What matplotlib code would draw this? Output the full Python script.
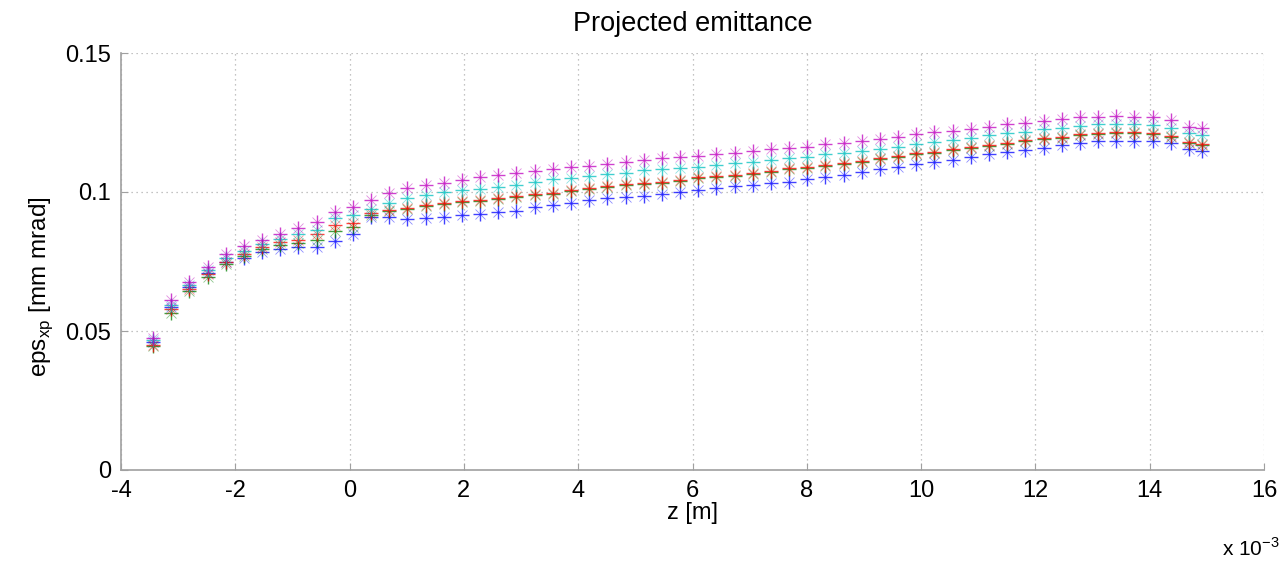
import matplotlib
matplotlib.use("Agg")
import matplotlib.pyplot as plt

plt.rcParams['font.family'] = ['Liberation Sans', 'DejaVu Sans']

# z positions in units of 1e-3 m
z = [-3.440, -3.122, -2.804, -2.486, -2.168, -1.850, -1.532, -1.214, -0.896, -0.578,
     -0.260, 0.058, 0.376, 0.694, 1.012, 1.330, 1.648, 1.966, 2.284, 2.602,
     2.920, 3.238, 3.556, 3.874, 4.192, 4.510, 4.828, 5.146, 5.464, 5.782,
     6.100, 6.418, 6.736, 7.054, 7.372, 7.690, 8.008, 8.326, 8.644, 8.962,
     9.280, 9.598, 9.916, 10.234, 10.552, 10.870, 11.188, 11.506, 11.824, 12.142,
     12.460, 12.778, 13.096, 13.414, 13.732, 14.050, 14.368, 14.686, 14.920]

eps_blue = [0.0460, 0.0586, 0.0658, 0.0709, 0.0748, 0.0763, 0.0784, 0.0795, 0.0802, 0.0802,
            0.0824, 0.0849, 0.0910, 0.0910, 0.0903, 0.0906, 0.0910, 0.0917, 0.0921, 0.0928,
            0.0932, 0.0946, 0.0953, 0.0960, 0.0971, 0.0978, 0.0982, 0.0986, 0.0993, 0.1000,
            0.1007, 0.1014, 0.1022, 0.1025, 0.1032, 0.1036, 0.1047, 0.1054, 0.1061, 0.1072,
            0.1083, 0.1090, 0.1101, 0.1108, 0.1115, 0.1126, 0.1137, 0.1144, 0.1151, 0.1158,
            0.1169, 0.1176, 0.1183, 0.1183, 0.1183, 0.1183, 0.1176, 0.1155, 0.1147]

eps_green = [0.0446, 0.0565, 0.0644, 0.0694, 0.0741, 0.0770, 0.0795, 0.0809, 0.0817, 0.0827,
             0.0860, 0.0874, 0.0917, 0.0932, 0.0939, 0.0950, 0.0957, 0.0965, 0.0968, 0.0975,
             0.0983, 0.0990, 0.0993, 0.1004, 0.1011, 0.1019, 0.1026, 0.1029, 0.1033, 0.1040,
             0.1051, 0.1055, 0.1058, 0.1065, 0.1073, 0.1083, 0.1087, 0.1094, 0.1101, 0.1109,
             0.1119, 0.1126, 0.1137, 0.1141, 0.1152, 0.1159, 0.1166, 0.1173, 0.1184, 0.1191,
             0.1195, 0.1206, 0.1209, 0.1213, 0.1213, 0.1209, 0.1198, 0.1177, 0.1170]

eps_red = [0.0451, 0.0579, 0.0651, 0.0705, 0.0748, 0.0777, 0.0802, 0.0820, 0.0827, 0.0849,
           0.0881, 0.0888, 0.0924, 0.0935, 0.0942, 0.0953, 0.0960, 0.0968, 0.0971, 0.0978,
           0.0986, 0.0993, 0.0996, 0.1007, 0.1014, 0.1022, 0.1029, 0.1032, 0.1036, 0.1043,
           0.1054, 0.1058, 0.1061, 0.1068, 0.1076, 0.1086, 0.1090, 0.1097, 0.1104, 0.1112,
           0.1122, 0.1129, 0.1140, 0.1144, 0.1155, 0.1162, 0.1169, 0.1176, 0.1187, 0.1194,
           0.1198, 0.1209, 0.1212, 0.1216, 0.1216, 0.1212, 0.1201, 0.1180, 0.1173]

eps_cyan = [0.0468, 0.0594, 0.0665, 0.0719, 0.0763, 0.0788, 0.0813, 0.0831, 0.0849, 0.0863,
            0.0906, 0.0917, 0.0939, 0.0960, 0.0978, 0.0989, 0.1000, 0.1007, 0.1011, 0.1018,
            0.1025, 0.1036, 0.1047, 0.1050, 0.1058, 0.1065, 0.1068, 0.1079, 0.1083, 0.1086,
            0.1090, 0.1097, 0.1104, 0.1108, 0.1115, 0.1122, 0.1126, 0.1137, 0.1140, 0.1147,
            0.1155, 0.1162, 0.1173, 0.1180, 0.1187, 0.1194, 0.1205, 0.1212, 0.1216, 0.1227,
            0.1230, 0.1237, 0.1245, 0.1245, 0.1245, 0.1241, 0.1230, 0.1212, 0.1205]

eps_magenta = [0.0475, 0.0612, 0.0676, 0.0730, 0.0777, 0.0806, 0.0827, 0.0849, 0.0871, 0.0892,
               0.0928, 0.0946, 0.0971, 0.0996, 0.1014, 0.1025, 0.1032, 0.1043, 0.1054, 0.1061,
               0.1068, 0.1076, 0.1083, 0.1090, 0.1094, 0.1101, 0.1108, 0.1115, 0.1122, 0.1126,
               0.1129, 0.1137, 0.1140, 0.1147, 0.1155, 0.1158, 0.1162, 0.1173, 0.1176, 0.1183,
               0.1191, 0.1198, 0.1209, 0.1216, 0.1219, 0.1227, 0.1234, 0.1245, 0.1248, 0.1255,
               0.1263, 0.1270, 0.1270, 0.1273, 0.1270, 0.1270, 0.1259, 0.1234, 0.1230]

series = [(eps_blue, '#0000ff'), (eps_green, '#008000'), (eps_red, '#ff0000'),
          (eps_cyan, '#00bfbf'), (eps_magenta, '#bf00bf')]

xticks = [-4, -2, 0, 2, 4, 6, 8, 10, 12, 14, 16]
yticks = [0, 0.05, 0.1, 0.15]
ytick_labels = ['0', '0.05', '0.1', '0.15']

fig = plt.figure(figsize=(12.83, 5.64), dpi=100)
ax = fig.add_axes([121/1283, 1 - 470/564, (1264 - 121)/1283, (470 - 53)/564])

for vals, col in series:
    # MATLAB-style '*' marker: a plus with lighter diagonal arms
    ax.plot(z, vals, linestyle='none', marker='x', markersize=6.5,
            markeredgewidth=0.6, color=col, alpha=0.45)
    ax.plot(z, vals, linestyle='none', marker='+', markersize=10,
            markeredgewidth=1.0, color=col, alpha=0.75)

ax.set_xlim(-4, 16)
ax.set_ylim(0, 0.15)
ax.set_xticks(xticks)
ax.set_xticklabels([str(t) for t in xticks])
ax.set_yticks(yticks)
ax.set_yticklabels(ytick_labels)

ax.grid(True, linestyle=(0, (1, 3)), color='#b0b0b0', linewidth=0.9)
for s in ['top', 'right']:
    ax.spines[s].set_visible(False)
for s in ['left', 'bottom']:
    ax.spines[s].set_color('#a0a0a0')
    ax.spines[s].set_linewidth(1.2)
ax.tick_params(direction='in', length=5, color='#a0a0a0', labelsize=17, pad=7)

ax.set_title('Projected emittance', fontsize=19.5, pad=16)
ax.set_xlabel('z [m]', fontsize=17, labelpad=0)
ax.set_ylabel(r'eps$_{\mathregular{xp}}$ [mm mrad]', fontsize=17.5)
ax.yaxis.set_label_coords(-0.058, 0.44)
fig.text(1280/1283, 1 - 548/564, r'x 10$^{\mathregular{-3}}$', fontsize=15,
         ha='right', va='center')

fig.savefig('out.png', dpi=100)
